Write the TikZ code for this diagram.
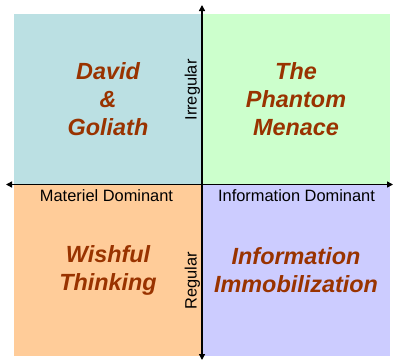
\documentclass[tikz,border=0pt]{standalone}
\usepackage{fontspec}
\setmainfont{Liberation Sans}
\usetikzlibrary{arrows.meta}
\definecolor{qcyan}{RGB}{187,224,227}
\definecolor{qgreen}{RGB}{204,255,204}
\definecolor{qorange}{RGB}{255,204,153}
\definecolor{qlav}{RGB}{204,204,255}
\definecolor{qtext}{RGB}{153,51,0}
\tikzset{
  quad/.style={draw=none, inner sep=0pt, outer sep=0pt, anchor=north west, minimum width=188pt},
  title/.style={text=qtext, align=center, inner sep=0pt, font=\bfseries\itshape\fontsize{23.4}{28}\selectfont},
  axlabel/.style={inner sep=0pt, font=\fontsize{16.4}{19}\selectfont},
  axis/.style={line width=1.4pt, -{Triangle[length=6pt,width=6pt]}}
}
\begin{document}
\begin{tikzpicture}[x=1pt,y=-1pt]
\useasboundingbox (0,0) rectangle (393,360);
% quadrants
\node[quad, fill=qcyan, minimum height=170pt] (tl) at (14,14) {};
\node[quad, fill=qgreen, minimum height=170pt] (tr) at (202,14) {};
\node[quad, fill=qorange, minimum height=172pt] (bl) at (14,184) {};
\node[quad, fill=qlav, minimum height=172pt] (br) at (202,184) {};
% titles
\node[title] (dg) at (tl.center) {David\\\&\\Goliath};
\node[title] (pm) at (tr.center) {The\\Phantom\\Menace};
\node[title] (wt) at (bl.center) {Wishful\\Thinking};
\node[title] (ii) at (br.center) {Information\\Immobilization};
% axes
\coordinate (c) at (202,184.5);
\coordinate (l) at (6,184.5);
\coordinate (r) at (393,184.5);
\coordinate (t) at (202,5);
\coordinate (b) at (202,360);
\draw[axis] (c) -- (l);
\draw[axis] (c) -- (r);
\draw[axis] (c) -- (t);
\draw[axis] (c) -- (b);
% axis labels
\node[axlabel, anchor=base] (md) at (106.5,201) {Materiel Dominant};
\node[axlabel, anchor=base] (id) at (296.5,201) {Information Dominant};
\node[axlabel, anchor=base, rotate=90] (irr) at (196.5,90) {Irregular};
\node[axlabel, anchor=base, rotate=90] (reg) at (196.5,281) {Regular};
\end{tikzpicture}
\end{document}
